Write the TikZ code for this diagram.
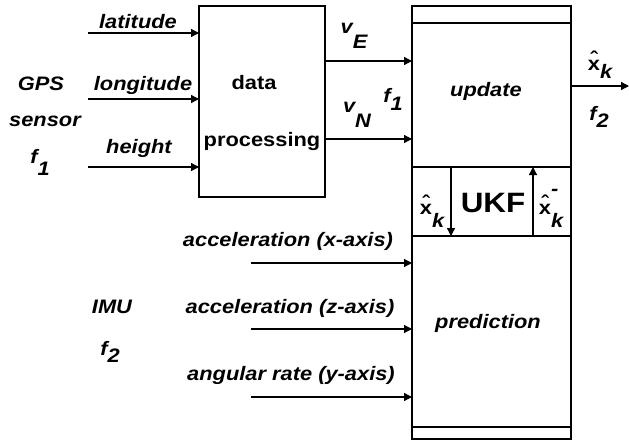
\documentclass[tikz,border=0pt]{standalone}
\usepackage{fontspec}
\setmainfont{Liberation Sans}[FakeStretch=1.12]
\usetikzlibrary{positioning, arrows.meta}
\newcommand{\lo}[2][10pt]{\raisebox{-#1}{#2}}
\newcommand{\xh}{{\upshape\ooalign{x\cr\hidewidth\raisebox{5pt}{\char"02C6}\hidewidth\cr}}}

\begin{document}
\begin{tikzpicture}[x=1pt, y=-1pt,
  lbl/.style={font=\fontsize{19.5}{23}\selectfont\bfseries\itshape, inner sep=0pt, anchor=base},
  txt/.style={font=\fontsize{19.5}{23}\selectfont\bfseries, inner sep=0pt, anchor=base},
  blk/.style={draw, line width=1.3pt, outer sep=0pt, inner sep=0pt, minimum width=159pt},
  sig/.style={line width=1.3pt, -{Triangle[length=8pt,width=8pt]}}]

\useasboundingbox (0,0) rectangle (629,442);

% blocks
\node[blk, minimum width=126pt, minimum height=191pt] (dp) at (262,101.5) {};
\node[blk, minimum height=17pt] (top) at (491.5,14.5) {};
\node[blk, minimum height=144pt, below=0pt of top] (upd) {};
\node[blk, minimum height=69pt, below=0pt of upd] (row) {};
\node[blk, minimum height=191pt, below=0pt of row] (pred) {};
\node[blk, minimum height=12pt, below=0pt of pred] (bot) {};

% GPS inputs
\foreach \name/\y in {lat/33, lon/99, hgt/167} {
  \coordinate (\name) at (88,\y);
  \draw[sig] (\name) -- (\name -| dp.west);
}
% IMU inputs
\foreach \name/\y in {accx/263, accz/329, gyr/397} {
  \coordinate (\name) at (251,\y);
  \draw[sig] (\name) -- (\name -| pred.west);
}
% velocities and output
\coordinate (vE) at (325,61);
\coordinate (vN) at (325,139);
\coordinate (out) at (629,86);
\draw[sig] (vE) -- (vE -| upd.west);
\draw[sig] (vN) -- (vN -| upd.west);
\draw[sig] (out -| upd.east) -- (out);

% UKF loop
\coordinate (xa) at (451,0);
\coordinate (xb) at (533,0);
\draw[sig] (upd.south -| xa) -- (row.south -| xa);
\draw[sig] (row.south -| xb) -- (upd.south -| xb);

% texts
\node[lbl] (tlat) at (138,28) {latitude};
\node[lbl] (tlon) at (143,90) {longitude};
\node[lbl] (thgt) at (139,153) {height};
\node[lbl] (tgps) at (41,90) {GPS};
\node[lbl] (tsen) at (45,126) {sensor};
\node[lbl] (tf1a) at (40,163) {f\lo[12pt]{1}};
\node[txt] (tdat) at (254,89) {data};
\node[txt] (tpro) at (262,146) {processing};
\node[lbl] (tvE) at (354,33) {v\lo[15pt]{E}};
\node[lbl] (tvN) at (357,112) {v\lo[15pt]{N}};
\node[lbl] (tf1b) at (393,102) {f\lo[8pt]{1}};
\node[lbl] (tupd) at (486,96) {update};
\node[lbl] (txo) at (600,70) {\xh\lo[8pt]{k}};
\node[lbl] (tf2a) at (599,120) {f\lo[7pt]{2}};
\node[lbl] (txl) at (432,214) {\xh\lo[13pt]{k}};
\node[txt, font=\fontsize{28}{32}\selectfont\bfseries] (tukf) at (493,212) {UKF};
\node[lbl] (txr) at (551,214) {\xh\lo[13pt]{\rlap{\raisebox{32pt}{-}}k}};
\node[lbl] (tpre) at (488,328) {prediction};
\node[lbl] (tax) at (288,246) {acceleration (x-axis)};
\node[lbl] (taz) at (290,313) {acceleration (z-axis)};
\node[lbl] (tgy) at (291,380) {angular rate (y-axis)};
\node[lbl] (timu) at (112,313) {IMU};
\node[lbl] (tf2b) at (110,355) {f\lo[7pt]{2}};
\end{tikzpicture}
\end{document}
